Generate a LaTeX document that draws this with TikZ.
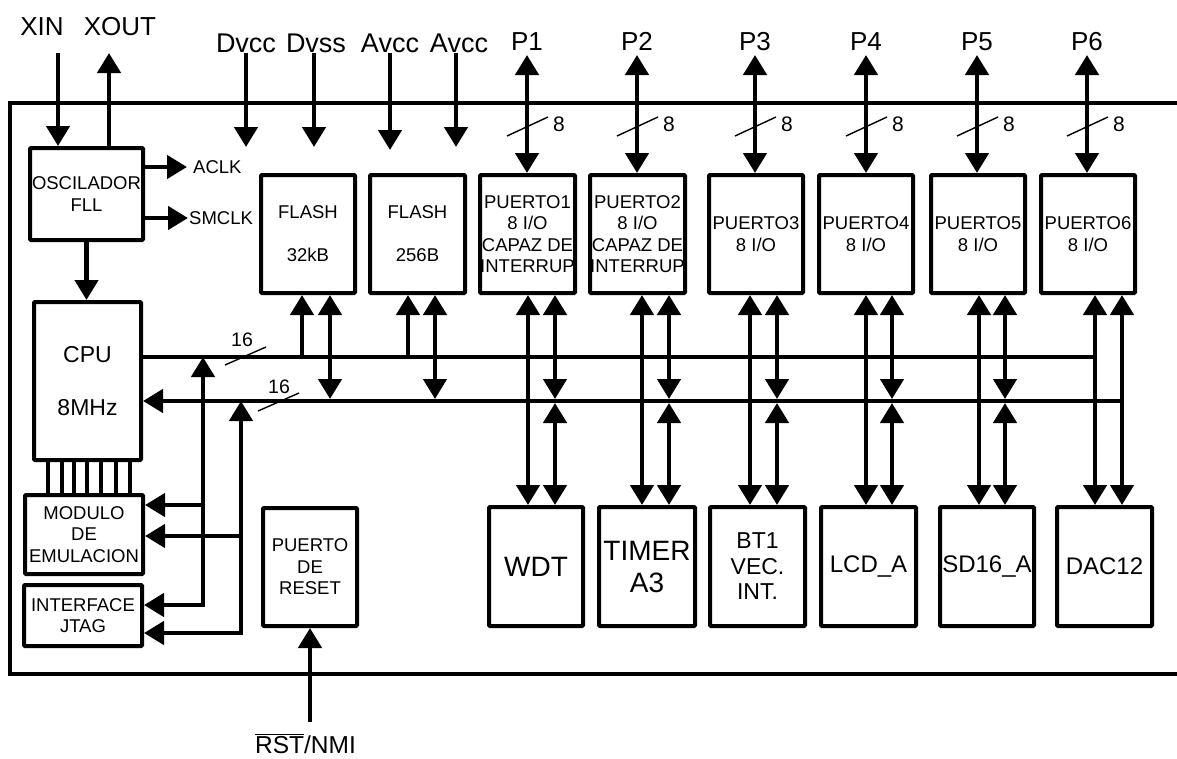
\documentclass[tikz,border=0pt]{standalone}
\usepackage{fontspec}
\setmainfont{Liberation Sans}
\usetikzlibrary{arrows.meta}
\newcommand\myfs[2]{\fontsize{#1}{#2}\selectfont}
\begin{document}
\begin{tikzpicture}[x=1pt,y=-1pt,
  box/.style={draw, line width=4pt, inner sep=0pt, align=center, rounded corners=1pt},
  sbox/.style={box, font=\myfs{18.5}{21.3}},
  wire/.style={line width=4.5pt},
  arr/.style={wire, -{Triangle[width=23pt,length=20pt]}},
  dbl/.style={wire, {Triangle[width=23pt,length=20pt]}-{Triangle[width=23pt,length=20pt]}},
  slash/.style={line width=1.4pt},
  lbl/.style={inner sep=0pt},
  biglbl/.style={lbl, anchor=base, font=\myfs{26}{26}},
  eight/.style={lbl, font=\myfs{21}{21}},
]
\useasboundingbox (0,0) rectangle (1177,758);
\fill[white] (0,0) rectangle (1177,758);

% frame
\coordinate (frTR) at (1185,103);
\coordinate (frTL) at (10,103);
\coordinate (frBL) at (10,674);
\coordinate (frBR) at (1185,674);
\draw[wire] (frTR) -- (frTL) -- (frBL) -- (frBR);

% boxes
\node[sbox, minimum width=113pt, minimum height=92pt, font=\myfs{18.5}{22}] (osc) at (86.5,194) {OSCILADOR\\FLL};
\node[box, minimum width=107pt, minimum height=158pt, font=\myfs{23}{53}] (cpu) at (87.5,381) {CPU\\8MHz};
\node[sbox, minimum width=118pt, minimum height=79pt] (mod) at (84,534.5) {MODULO\\DE\\EMULACION};
\node[sbox, minimum width=118pt, minimum height=61pt] (jtag) at (83,615.5) {INTERFACE\\JTAG};
\node[box, minimum width=94pt, minimum height=118pt, font=\myfs{18.5}{43}] (flash1) at (308,234) {FLASH\\32kB};
\node[box, minimum width=95pt, minimum height=118pt, font=\myfs{18.5}{43}] (flash2) at (417.5,234) {FLASH\\256B};
\node[sbox, minimum width=95pt, minimum height=118pt] (p1) at (527.5,234) {PUERTO1\\8 I/O\\CAPAZ DE\\INTERRUP};
\node[sbox, minimum width=95pt, minimum height=118pt] (p2) at (637.5,234) {PUERTO2\\8 I/O\\CAPAZ DE\\INTERRUP};
\node[sbox, minimum width=94pt, minimum height=118pt, font=\myfs{18.5}{22}] (p3) at (756,234) {PUERTO3\\8 I/O};
\node[sbox, minimum width=94pt, minimum height=118pt, font=\myfs{18.5}{22}] (p4) at (866,234) {PUERTO4\\8 I/O};
\node[sbox, minimum width=94pt, minimum height=118pt, font=\myfs{18.5}{22}] (p5) at (978,234) {PUERTO5\\8 I/O};
\node[sbox, minimum width=94pt, minimum height=118pt, font=\myfs{18.5}{22}] (p6) at (1088,234) {PUERTO6\\8 I/O};
\node[sbox, minimum width=94pt, minimum height=118pt, font=\myfs{18.5}{21.5}] (reset) at (310,567) {PUERTO\\DE\\RESET};
\node[box, minimum width=94pt, minimum height=119pt, font=\myfs{28}{32}] (wdt) at (536,566.5) {WDT};
\node[box, minimum width=96pt, minimum height=119pt, font=\myfs{28}{32}] (timer) at (647,566.5) {TIMER\\A3};
\node[box, minimum width=95pt, minimum height=119pt, font=\myfs{23}{25.5}] (bt) at (757.5,566.5) {BT1\\VEC.\\INT.};
\node[box, minimum width=95pt, minimum height=119pt, font=\myfs{24}{28}] (lcd) at (868.5,566.5) {LCD\_A};
\node[box, minimum width=94pt, minimum height=119pt, font=\myfs{24}{28}] (sd) at (987,566.5) {SD16\_A};
\node[box, minimum width=95pt, minimum height=119pt, font=\myfs{24}{28}] (dac) at (1104.5,566.5) {DAC12};

% top labels
\node[biglbl] (xin) at (42,35) {XIN};
\node[biglbl] (xout) at (120,35) {XOUT};
\node[biglbl, font=\myfs{27}{27}] (dvcc) at (246,52) {Dvcc};
\node[biglbl, font=\myfs{27}{27}] (dvss) at (316,52) {Dvss};
\node[biglbl, font=\myfs{27}{27}] (avcc1) at (390,52) {Avcc};
\node[biglbl, font=\myfs{27}{27}] (avcc2) at (459,52) {Avcc};

% XIN / XOUT
\coordinate (xi) at (58,53);
\coordinate (xo) at (109,53);
\draw[arr] (xi) -- (xi |- osc.north);
\draw[arr] (xo |- osc.north) -- (xo);

% supplies
\coordinate (s1) at (246,53);
\coordinate (s2) at (314,53);
\coordinate (s3) at (390,53);
\coordinate (s4) at (456,53);
\coordinate (s1e) at (246,147);
\coordinate (s2e) at (314,147);
\coordinate (s3e) at (390,150);
\coordinate (s4e) at (456,147);
\draw[arr] (s1) -- (s1e);
\draw[arr] (s2) -- (s2e);
\draw[arr] (s3) -- (s3e);
\draw[arr] (s4) -- (s4e);

% clocks
\node[lbl, anchor=west, font=\myfs{18.5}{20}] (aclk) at (193,167) {ACLK};
\node[lbl, anchor=west, font=\myfs{18.5}{20}] (smclk) at (189,218) {SMCLK};
\draw[arr] (osc.east |- aclk.west) -- ([xshift=-6pt]aclk.west);
\draw[arr] (osc.east |- smclk.west) -- ([xshift=-1pt]smclk.west);

% osc -> cpu
\draw[arr] (osc.south) -- (osc.south |- cpu.north);

% cpu pins
\foreach \px in {48,62,74,87,101,116,130}{
  \coordinate (pin) at (\px,0);
  \draw[line width=4pt] (pin |- cpu.south) -- (pin |- mod.north);
}

% buses
\coordinate (b1) at (1095,357);
\coordinate (b2) at (1122,401);
\draw[wire] (cpu.east |- b1) -- (b1);
\draw[arr] (b2) -- (cpu.east |- b2);
\draw[slash] (225,365) -- (266,347);
\node[lbl, font=\myfs{19.5}{20}] (n16a) at (242,340) {16};
\draw[slash] (258,411) -- (299,393);
\node[lbl, font=\myfs{19.5}{20}] (n16b) at (279,387) {16};

% vertical lines to emulation / jtag
\coordinate (ja) at (203,605);
\coordinate (ma) at (203,505);
\coordinate (jb) at (241,633);
\coordinate (mb) at (241,536);
\draw[dbl] (ja -| jtag.east) -- (ja) -- (ja |- b1);
\draw[dbl] (jb -| jtag.east) -- (jb) -- (jb |- b2);
\draw[arr] (ma) -- (ma -| mod.east);
\draw[arr] (mb) -- (mb -| mod.east);

% flash connections
\coordinate (f1l) at (302,0);
\coordinate (f1r) at (330,0);
\coordinate (f2l) at (408,0);
\coordinate (f2r) at (435,0);
\draw[arr] (f1l |- b1) -- (f1l |- flash1.south);
\draw[arr] (f2l |- b1) -- (f2l |- flash2.south);
\draw[dbl, shorten >=2pt] (f1r |- flash1.south) -- (f1r |- b2);
\draw[dbl, shorten >=2pt] (f2r |- flash2.south) -- (f2r |- b2);

% port pins P1..P6
\foreach \pn/\px in {1/527,2/637,3/755,4/866,5/977,6/1087}{
  \coordinate (t\pn) at (\px,55);
  \node[biglbl] (lp\pn) at (\px,50) {P\pn};
  \draw[dbl] (t\pn) -- (t\pn |- p\pn.north);
  \draw[slash] ([shift={(-20,81)}]t\pn) -- ([shift={(21,62)}]t\pn);
  \node[eight] (e\pn) at ([shift={(32,69)}]t\pn) {8};
}

% columns between ports and peripherals
\foreach \ta/\tb/\xl/\xr in {p1/wdt/528/555, p2/timer/642/669, p3/bt/750/777, p4/lcd/866/892, p5/sd/979/1005}{
  \coordinate (cl) at (\xl,0);
  \coordinate (cr) at (\xr,0);
  \draw[dbl] (cl |- \ta.south) -- (cl |- \tb.north);
  \draw[dbl, shorten >=2pt] (cr |- \ta.south) -- (cr |- b2);
  \draw[dbl, shorten <=2pt] (cr |- b2) -- (cr |- \tb.north);
}
\coordinate (dl) at (1095,0);
\coordinate (dr) at (1122,0);
\draw[dbl] (dl |- p6.south) -- (dl |- dac.north);
\draw[dbl] (dr |- p6.south) -- (dr |- dac.north);

% reset
\coordinate (rs) at (310,722);
\draw[arr] (rs) -- (rs |- reset.south);
\node[lbl, anchor=base, font=\myfs{24.5}{26}] (rstl) at (305.5,753) {$\overline{\mbox{RST}}$/NMI};
\end{tikzpicture}
\end{document}
